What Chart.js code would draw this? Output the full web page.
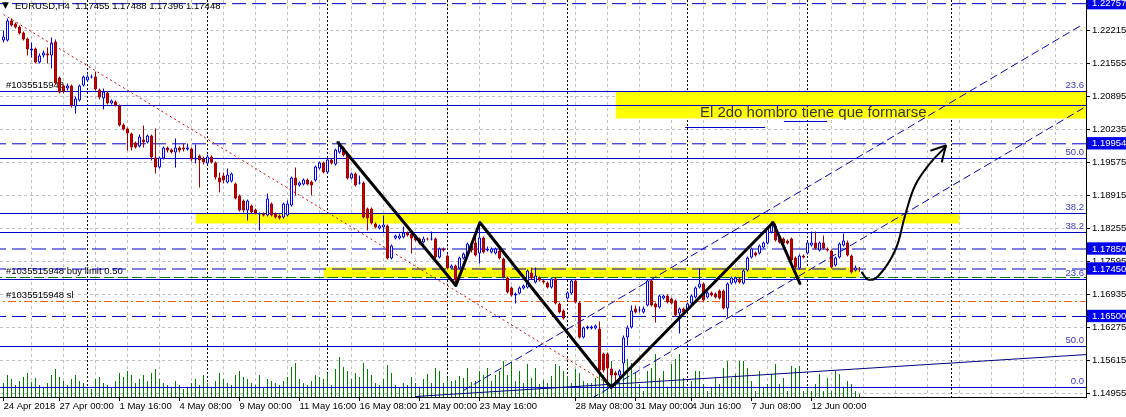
<!DOCTYPE html>
<html>
<head>
<meta charset="utf-8">
<script src="https://cdn.jsdelivr.net/npm/chart.js@4.4.1/dist/chart.umd.min.js"></script>
<style>
  html, body { margin: 0; padding: 0; background: #fff; overflow: hidden; }
  #wrap { position: relative; width: 1126px; height: 417px; }
</style>
</head>
<body>
<div id="wrap"><canvas id="eurusdChart"></canvas></div>
<script>
// EURUSD H4 candles, one value per bar (bar 0 = 24 Apr 2018)
const opens = [1.2202,1.2202,1.2242,1.2236,1.2230,1.2218,1.2206,1.2182,1.2186,1.2158,
1.2172,1.2176,1.2172,1.2200,1.2128,1.2112,1.2106,1.2112,1.2070,1.2082,
1.2112,1.2122,1.2128,1.2130,1.2104,1.2086,1.2098,1.2076,1.2080,1.2072,
1.2034,1.2026,1.2016,1.1998,1.1990,1.2004,1.1998,1.2012,1.1968,1.1948,
1.1966,1.1988,1.1984,1.1978,1.1988,1.1988,1.1984,1.1986,1.1964,1.1972,
1.1966,1.1956,1.1970,1.1958,1.1928,1.1932,1.1918,1.1920,1.1916,1.1892,
1.1882,1.1862,1.1872,1.1864,1.1854,1.1856,1.1852,1.1876,1.1856,1.1852,
1.1848,1.1852,1.1872,1.1928,1.1912,1.1914,1.1924,1.1920,1.1922,1.1946,
1.1958,1.1938,1.1964,1.1954,1.1978,1.1988,1.1976,1.1926,1.1936,1.1916,
1.1918,1.1866,1.1866,1.1836,1.1826,1.1828,1.1832,1.1766,1.1806,1.1806,
1.1808,1.1818,1.1816,1.1812,1.1806,1.1798,1.1806,1.1804,1.1806,1.1768,
1.1786,1.1772,1.1746,1.1752,1.1746,1.1766,1.1772,1.1792,1.1798,1.1776,
1.1808,1.1782,1.1778,1.1776,1.1782,1.1766,1.1728,1.1708,1.1692,1.1696,
1.1706,1.1708,1.1738,1.1718,1.1728,1.1722,1.1718,1.1708,1.1726,1.1676,
1.1662,1.1686,1.1696,1.1722,1.1678,1.1608,1.1626,1.1626,1.1626,1.1626,
1.1576,1.1576,1.1546,1.1538,1.1532,1.1556,1.1608,1.1628,1.1666,1.1662,
1.1658,1.1672,1.1722,1.1676,1.1668,1.1686,1.1692,1.1686,1.1682,1.1656,
1.1666,1.1662,1.1676,1.1688,1.1708,1.1716,1.1688,1.1698,1.1696,1.1702,
1.1702,1.1666,1.1716,1.1718,1.1726,1.1716,1.1742,1.1768,1.1778,1.1776,
1.1788,1.1796,1.1818,1.1832,1.1808,1.1806,1.1802,1.1806,1.1768,1.1746,
1.1772,1.1776,1.1792,1.1798,1.1782,1.1798,1.1786,1.1782,1.1752,1.1768,
1.1792,1.1798,1.1772,1.1742,1.17455];
const highs = [1.2222,1.2246,1.2246,1.2238,1.2232,1.2220,1.2208,1.2198,1.2188,1.2176,
1.2182,1.2188,1.2208,1.2204,1.2130,1.2114,1.2116,1.2114,1.2090,1.2114,
1.2132,1.2134,1.2134,1.2140,1.2106,1.2106,1.2100,1.2084,1.2082,1.2074,
1.2036,1.2028,1.2018,1.2000,1.2014,1.2032,1.2014,1.2014,1.2026,1.1970,
1.1990,1.1990,1.1986,1.2006,1.1990,1.1996,1.1996,1.1988,1.1994,1.1974,
1.1970,1.1974,1.1972,1.1960,1.1938,1.1938,1.1946,1.1938,1.1918,1.1894,
1.1884,1.1884,1.1874,1.1866,1.1858,1.1858,1.1896,1.1878,1.1858,1.1854,
1.1878,1.1882,1.1930,1.1948,1.1920,1.1926,1.1926,1.1922,1.1952,1.1960,
1.1960,1.1966,1.1966,1.1986,1.2000,1.1990,1.1978,1.1938,1.1938,1.1932,
1.1920,1.1868,1.1868,1.1838,1.1834,1.1852,1.1834,1.1794,1.1814,1.1816,
1.1830,1.1820,1.1818,1.1814,1.1808,1.1810,1.1808,1.1820,1.1808,1.1788,
1.1788,1.1774,1.1754,1.1754,1.1770,1.1778,1.1798,1.1794,1.1810,1.1832,
1.1810,1.1790,1.1788,1.1788,1.1792,1.1768,1.1730,1.1710,1.1698,1.1710,
1.1714,1.1744,1.1748,1.1748,1.1730,1.1724,1.1720,1.1728,1.1728,1.1678,
1.1664,1.1700,1.1724,1.1724,1.1680,1.1630,1.1632,1.1632,1.1634,1.1640,
1.1578,1.1578,1.1548,1.1540,1.1544,1.1612,1.1632,1.1672,1.1672,1.1670,
1.1670,1.1724,1.1724,1.1678,1.1694,1.1694,1.1694,1.1688,1.1684,1.1668,
1.1668,1.1678,1.1694,1.1710,1.1746,1.1718,1.1700,1.1700,1.1698,1.1704,
1.1704,1.1718,1.1730,1.1730,1.1728,1.1744,1.1770,1.1788,1.1780,1.1794,
1.1800,1.1828,1.1840,1.1836,1.1810,1.1808,1.1804,1.1808,1.1770,1.1774,
1.1774,1.1800,1.1820,1.1820,1.1800,1.1812,1.1788,1.1784,1.1770,1.1798,
1.1816,1.1802,1.1774,1.1752,1.17488];
const lows = [1.2198,1.2200,1.2230,1.2226,1.2214,1.2202,1.2172,1.2168,1.2156,1.2156,
1.2168,1.2156,1.2146,1.2114,1.2096,1.2096,1.2102,1.2068,1.2056,1.2080,
1.2110,1.2120,1.2126,1.2102,1.2084,1.2064,1.2074,1.2074,1.2070,1.2030,
1.2022,1.1982,1.1982,1.1986,1.1988,1.1988,1.1996,1.1962,1.1936,1.1946,
1.1964,1.1978,1.1976,1.1948,1.1978,1.1980,1.1982,1.1960,1.1956,1.1908,
1.1954,1.1954,1.1956,1.1924,1.1898,1.1916,1.1916,1.1918,1.1884,1.1860,
1.1858,1.1842,1.1856,1.1854,1.1822,1.1850,1.1850,1.1850,1.1846,1.1844,
1.1846,1.1850,1.1870,1.1892,1.1910,1.1912,1.1912,1.1892,1.1920,1.1944,
1.1936,1.1936,1.1954,1.1952,1.1976,1.1970,1.1924,1.1924,1.1910,1.1914,
1.1846,1.1822,1.1834,1.1826,1.1824,1.1818,1.1764,1.1764,1.1804,1.1804,
1.1806,1.1810,1.1776,1.1800,1.1794,1.1796,1.1802,1.1802,1.1766,1.1766,
1.1780,1.1744,1.1744,1.1718,1.1744,1.1764,1.1770,1.1778,1.1770,1.1756,
1.1776,1.1780,1.1776,1.1774,1.1764,1.1726,1.1696,1.1690,1.1676,1.1694,
1.1704,1.1706,1.1724,1.1716,1.1720,1.1716,1.1706,1.1706,1.1674,1.1656,
1.1644,1.1684,1.1694,1.1676,1.1606,1.1606,1.1624,1.1624,1.1624,1.1538,
1.1538,1.1514,1.1528,1.1512,1.1520,1.1538,1.1592,1.1626,1.1656,1.1658,
1.1656,1.1670,1.1670,1.1638,1.1666,1.1684,1.1676,1.1674,1.1650,1.1616,
1.1656,1.1660,1.1674,1.1686,1.1706,1.1680,1.1686,1.1690,1.1686,1.1684,
1.1664,1.1648,1.1714,1.1716,1.1716,1.1714,1.1740,1.1766,1.1770,1.1774,
1.1786,1.1794,1.1816,1.1800,1.1796,1.1794,1.1794,1.1760,1.1746,1.1744,
1.1766,1.1774,1.1790,1.1784,1.1780,1.1784,1.1780,1.1746,1.1750,1.1766,
1.1790,1.1770,1.1736,1.1740,1.17396];
const closes = [1.2210,1.2242,1.2232,1.2228,1.2216,1.2204,1.2184,1.2186,1.2158,1.2172,
1.2178,1.2172,1.2198,1.2116,1.2098,1.2100,1.2112,1.2072,1.2086,1.2112,
1.2130,1.2130,1.2130,1.2104,1.2088,1.2100,1.2076,1.2082,1.2072,1.2032,
1.2024,1.2016,1.1988,1.1988,1.2010,1.1998,1.2012,1.1968,1.1948,1.1968,
1.1988,1.1982,1.1978,1.1988,1.1982,1.1984,1.1988,1.1964,1.1968,1.1962,
1.1958,1.1970,1.1958,1.1928,1.1918,1.1922,1.1934,1.1936,1.1886,1.1862,
1.1862,1.1882,1.1858,1.1856,1.1856,1.1852,1.1886,1.1852,1.1848,1.1846,
1.1876,1.1876,1.1928,1.1912,1.1918,1.1924,1.1914,1.1912,1.1950,1.1958,
1.1938,1.1964,1.1956,1.1984,1.1996,1.1972,1.1926,1.1936,1.1912,1.1918,
1.1848,1.1846,1.1836,1.1828,1.1832,1.1834,1.1766,1.1792,1.1812,1.1812,
1.1818,1.1812,1.1806,1.1802,1.1796,1.1806,1.1804,1.1806,1.1768,1.1786,
1.1782,1.1746,1.1752,1.1722,1.1768,1.1776,1.1796,1.1782,1.1772,1.1808,
1.1778,1.1786,1.1786,1.1786,1.1766,1.1728,1.1698,1.1692,1.1696,1.1708,
1.1712,1.1742,1.1726,1.1732,1.1722,1.1718,1.1708,1.1726,1.1676,1.1658,
1.1646,1.1698,1.1722,1.1678,1.1608,1.1628,1.1630,1.1630,1.1632,1.1542,
1.1542,1.1546,1.1532,1.1532,1.1542,1.1608,1.1628,1.1662,1.1658,1.1664,
1.1666,1.1722,1.1672,1.1668,1.1692,1.1692,1.1678,1.1676,1.1652,1.1666,
1.1658,1.1676,1.1692,1.1708,1.1716,1.1682,1.1698,1.1692,1.1688,1.1686,
1.1666,1.1716,1.1728,1.1728,1.1718,1.1742,1.1768,1.1786,1.1772,1.1792,
1.1798,1.1826,1.1836,1.1802,1.1798,1.1796,1.1796,1.1762,1.1748,1.1772,
1.1768,1.1798,1.1798,1.1786,1.1798,1.1786,1.1782,1.1748,1.1768,1.1796,
1.1802,1.1772,1.1738,1.1748,1.17448];
const volumes = [1400,2200,1800,1200,1600,2000,2400,1500,1900,1200,1000,1400,2200,2800,2000,1600,1200,1800,2200,1600,
1400,1000,800,1800,2000,1400,1200,1000,1600,2400,2000,2600,2200,1400,1800,2200,1600,2400,2800,1800,
1400,1200,1000,1600,1200,800,1000,1400,1800,1200,2200,1400,1000,1600,2400,1800,1400,1200,2200,2600,
2000,1800,1400,1200,2200,1000,1800,1600,1400,1200,1600,2000,3000,3400,1800,1400,1200,1600,2200,2000,
1800,2400,1200,2800,4000,3000,2600,1800,2400,2000,3400,2800,2200,1400,1200,1800,3200,2400,1200,1000,
1400,1200,2000,1400,1000,1800,2300,1400,2900,2600,1400,1900,1600,1700,2100,1900,2900,1500,1600,2600,
2200,2900,1600,2200,2600,3600,2200,3500,1600,2600,1400,3300,1900,2900,1300,1700,1400,2100,3300,3100,
2600,2100,1400,2800,2400,1600,1400,1400,1900,3900,2200,4300,3600,2600,1900,4200,3800,3400,2400,1300,
600,2600,2900,4300,1900,2600,900,3300,3800,4300,1900,900,1600,2600,2600,1300,600,900,1900,1300,
2900,3600,1900,2300,3600,3600,2900,1600,600,2600,900,1300,2300,3300,1300,1900,600,3100,2900,3100,
600,900,600,1300,2300,600,1900,600,2600,2300,900,1600,1300,600,300];

// bottom axis labels and the bar each one sits on
const xTickBars = [0, 14, 29, 44, 59, 74, 89, 104, 119, 143, 158, 172, 187, 202];
const xTickLabels = ['24 Apr 2018', '27 Apr 00:00', '1 May 16:00', '4 May 08:00', '9 May 00:00',
  '11 May 16:00', '16 May 08:00', '21 May 00:00', '23 May 16:00', '28 May 08:00',
  '31 May 00:00', '4 Jun 16:00', '7 Jun 08:00', '12 Jun 00:00'];
const weekSeparatorBars = [21, 51, 81, 111, 141, 171, 201, 237];

// price axis
const yTickValues = [1.14955, 1.15615, 1.16275, 1.16935, 1.17595, 1.18255,
  1.18915, 1.19575, 1.20235, 1.20895, 1.21555, 1.22215];
const priceLabels = [1.22757, 1.19954, 1.17850, 1.17450, 1.16500];

// fibonacci levels (solid) and their captions
const fibLevels = [1.2100, 1.2072, 1.1966, 1.1856, 1.1818, 1.1724, 1.1590, 1.1508];
const fibTexts = ['23.6', '61.8', '50.0', '38.2', '38.2', '23.6', '50.0', '0.0'];

// pending order lines
const orderLevels = [1.2100, 1.1728, 1.1680];
const orderTexts = ['#1035515948', '#1035515948 buy limit 0.50', '#1035515948 sl'];

// yellow zones: [fromBar, toBar, top, bottom]
const zoneFrom = [153, 48, 80];
const zoneTo = [272, 239, 214];
const zoneTop = [1.2100, 1.1856, 1.1748];
const zoneBottom = [1.2046, 1.1836, 1.1728];

// drawn lines
const zigzagBars = [83.6, 113.1, 119.1, 151.9, 192.4, 199.1];
const zigzagPrices = [1.1998, 1.1712, 1.1838, 1.1508, 1.1838, 1.1716];
const arrowBars = [214.6, 216.1, 218.6, 222.9, 225.4, 227.9, 231.6, 235.6];
const arrowPrices = [1.1738, 1.1724, 1.1730, 1.1782, 1.1852, 1.1912, 1.1956, 1.1990];
const arrowHeadBars = [231.9, 235.6, 234.6];
const arrowHeadPrices = [1.1982, 1.1992, 1.1960];
const redTrendBars = [0, 151];
const redTrendPrices = [1.2254, 1.1516];
const channelUpBars = [115, 270];
const channelUpPrices = [1.1502, 1.2235];
const channelLowBars = [147, 270];
const channelLowPrices = [1.1486, 1.2067];
const flatTrendBars = [103, 271];
const flatTrendPrices = [1.1490, 1.1574];
const stubBars = [[170.4, 190.4], [195.1, 205.9]];
const stubPrices = [1.2028, 1.2040];

const headerText = 'EURUSD,H4  1.17455 1.17488 1.17396 1.17448';
const noteText = 'El 2do hombro tiene que formarse';
const noteBar = 174.1;
const notePrice = 1.2058;

const uiFont = '"Liberation Sans", Arial, sans-serif';
const uiSize = 9.5;
const xMin = -0.875, xMax = 270.625;
const yMin = 1.1489, yMax = 1.2283;

const BLUE = '#0000c8';
const hiSet = new Set(priceLabels);
const isHi = v => hiSet.has(v);

const bars = opens.map((_, i) => i);
const bull = bars.map(i => closes[i] >= opens[i]);

function pts(xs, ys) {
  return xs.map((x, k) => ({ x: x, y: ys[k] }));
}

function hLine(price, color, dash, order) {
  return {
    type: 'line', data: [{ x: xMin - 2, y: price }, { x: xMax + 2, y: price }],
    borderColor: color, borderWidth: 1, borderDash: dash, pointRadius: 0, order: order
  };
}

function trend(xs, ys, color, width, dash, order, extra) {
  return Object.assign({
    type: 'line', data: pts(xs, ys), borderColor: color, borderWidth: width,
    borderDash: dash, pointRadius: 0, order: order, tension: 0
  }, extra || {});
}

const datasets = [];

// yellow zones under everything
zoneFrom.forEach((f, k) => {
  datasets.push({
    type: 'line',
    data: [{ x: f, y: zoneTop[k] }, { x: zoneTo[k], y: zoneTop[k] }],
    borderWidth: 0, pointRadius: 0, backgroundColor: '#ffff00',
    fill: { target: { value: zoneBottom[k] } }, order: 100
  });
});

// volumes
datasets.push({
  type: 'bar', yAxisID: 'yv', grouped: false, order: 90,
  data: bars.map(i => ({ x: i, y: volumes[i] })),
  backgroundColor: '#008000', barThickness: 1, borderWidth: 0, inflateAmount: 0
});

// horizontal levels
fibLevels.forEach(p => datasets.push(hLine(p, BLUE, [], 80)));
priceLabels.forEach(p => datasets.push(hLine(p, BLUE, [14, 6], 80)));
datasets.push(hLine(orderLevels[1], '#008000', [10, 4], 79));
datasets.push(hLine(orderLevels[2], '#e8641e', [8, 3, 2, 3], 79));

// wicks
datasets.push({
  type: 'bar', grouped: false, order: 60,
  data: bars.map(i => ({ x: i, y: [lows[i], highs[i]] })),
  backgroundColor: bars.map(i => bull[i] ? '#0000ff' : '#a00000'),
  barThickness: 1, borderWidth: 0, inflateAmount: 0
});
// bodies
datasets.push({
  type: 'bar', grouped: false, order: 50,
  data: bars.map(i => ({ x: i, y: [opens[i], closes[i]] })),
  backgroundColor: bars.map(i => bull[i] ? '#ffffff' : '#d00000'),
  borderColor: bars.map(i => bull[i] ? '#0000ff' : '#a00000'),
  borderWidth: 1, borderSkipped: false, barThickness: 3, inflateAmount: 0
});

// trend lines
datasets.push(trend(redTrendBars, redTrendPrices, '#e00000', 1, [2, 3], 40));
datasets.push(trend(channelUpBars, channelUpPrices, BLUE, 1, [8, 4], 40));
datasets.push(trend(channelLowBars, channelLowPrices, BLUE, 1, [8, 4], 40));
datasets.push(trend(flatTrendBars, flatTrendPrices, '#000080', 1, [], 40));
stubBars.forEach((b, k) => datasets.push(trend(b, [stubPrices[k], stubPrices[k]], BLUE, 1, [], 40)));

// black drawings
datasets.push(trend(zigzagBars, zigzagPrices, '#000', 3, [], 10,
  { borderJoinStyle: 'round', borderCapStyle: 'round' }));
datasets.push(trend(arrowBars, arrowPrices, '#000', 2, [], 10,
  { tension: 0.4, borderCapStyle: 'round' }));
datasets.push(trend(arrowHeadBars, arrowHeadPrices, '#000', 2, [], 10,
  { borderCapStyle: 'round', borderJoinStyle: 'round' }));

const textPlugin = {
  id: 'textPlugin',
  beforeDatasetsDraw(chart) {
    const { ctx, chartArea, scales } = chart;
    ctx.save();
    ctx.font = uiSize + 'px ' + uiFont;
    ctx.textBaseline = 'bottom';
    ctx.textAlign = 'right';
    ctx.fillStyle = '#3a3ac8';
    fibLevels.forEach((p, k) => {
      ctx.fillText(fibTexts[k], chartArea.right - 2, scales.y.getPixelForValue(p) - 1);
    });
    ctx.textAlign = 'left';
    ctx.fillStyle = '#000';
    orderLevels.forEach((p, k) => {
      ctx.fillText(orderTexts[k], chartArea.left + 6, scales.y.getPixelForValue(p) - 1);
    });
    ctx.restore();
  },
  afterDatasetsDraw(chart) {
    const { ctx, chartArea, scales } = chart;
    ctx.save();
    ctx.fillStyle = '#000';
    ctx.textBaseline = 'middle';
    ctx.font = '9px "DejaVu Sans", sans-serif';
    ctx.fillText('\u25BC', chartArea.left + 2, 6);
    ctx.font = uiSize + 'px ' + uiFont;
    ctx.fillText(headerText, chartArea.left + 15, 6);
    ctx.font = '15px "Liberation Sans", Arial, sans-serif';
    ctx.fillStyle = '#333';
    ctx.fillText(noteText, scales.x.getPixelForValue(noteBar), scales.y.getPixelForValue(notePrice));
    ctx.restore();
  }
};

new Chart(document.getElementById('eurusdChart'), {
  type: 'bar',
  data: { datasets: datasets },
  options: {
    responsive: true,
    maintainAspectRatio: false,
    animation: false,
    events: [],
    layout: { padding: 0 },
    plugins: { legend: { display: false }, tooltip: { enabled: false } },
    scales: {
      x: {
        type: 'linear', min: xMin, max: xMax, offset: false,
        afterBuildTicks: s => { s.ticks = xTickBars.map(b => ({ value: b })); },
        afterFit: s => { s.height = 20; s.paddingLeft = 0; s.paddingRight = 0; },
        ticks: {
          autoSkip: false, maxRotation: 0, align: 'start', padding: 0, color: '#000',
          font: { family: uiFont, size: uiSize },
          callback: (v, i) => xTickLabels[i]
        },
        grid: { drawOnChartArea: false, offset: false, tickLength: 4, tickColor: '#000' },
        border: { display: true, color: '#000' }
      },
      xGrid: {
        type: 'linear', position: 'top', min: xMin, max: xMax, offset: false,
        afterBuildTicks: s => {
          const t = [];
          for (let v = 7; v <= xMax; v += 8) t.push({ value: v });
          s.ticks = t;
        },
        afterFit: s => { s.height = 0; },
        ticks: { display: false },
        grid: { color: '#c0c0c0', drawTicks: false, offset: false },
        border: { display: false, dash: [3, 3] }
      },
      xWeek: {
        type: 'linear', position: 'top', min: xMin, max: xMax, offset: false,
        afterBuildTicks: s => { s.ticks = weekSeparatorBars.map(b => ({ value: b })); },
        afterFit: s => { s.height = 0; },
        ticks: { display: false },
        grid: { color: '#000', drawTicks: false, offset: false },
        border: { display: false, dash: [2, 2] }
      },
      y: {
        type: 'linear', position: 'right', min: yMin, max: yMax,
        afterBuildTicks: s => { s.ticks = yTickValues.concat(priceLabels).map(v => ({ value: v })); },
        afterFit: s => { s.width = 40; s.paddingTop = 0; s.paddingBottom = 0; },
        ticks: {
          autoSkip: false, padding: 2, crossAlign: 'near',
          font: { family: uiFont, size: uiSize },
          color: c => isHi(c.tick.value) ? '#ffffff' : '#000000',
          showLabelBackdrop: c => isHi(c.tick.value),
          backdropColor: '#0000ee',
          backdropPadding: { left: 5, right: 12, top: 1, bottom: 0 },
          callback: v => v.toFixed(5)
        },
        grid: {
          color: c => (c.tick && isHi(c.tick.value)) ? 'rgba(0,0,0,0)' : '#c0c0c0',
          tickLength: 4, tickColor: '#000'
        },
        border: { display: true, color: '#000', dash: [3, 3] }
      },
      yv: { type: 'linear', display: false, min: 0, max: 39700 }
    }
  },
  plugins: [textPlugin]
});
</script>
</body>
</html>
